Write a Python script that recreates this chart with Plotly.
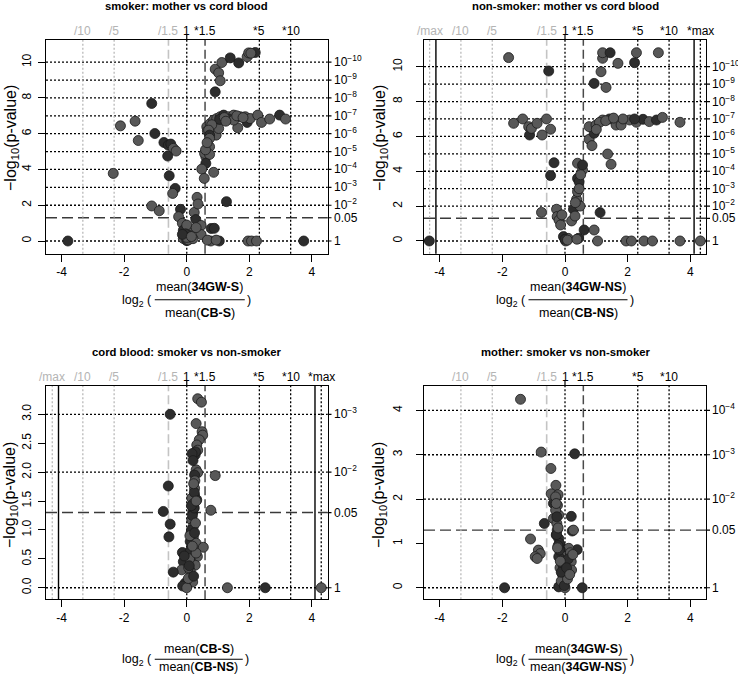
import math
import plotly.graph_objects as go

W, H = 738, 675

# ---------------- data ----------------
# Panel 1: smoker: mother vs cord blood
p1_x = [0.91, 0.91, 1.02, 1.07, 1.12, 1.39, 1.66, 1.93, 1.98, 2.19, 2.05,
        0.64, 0.66, 0.75, 0.86, 0.96, 1.07, 1.18, 0.94, 1.02, 1.34, 1.50, 1.63, 1.71, 1.87, 1.93,
        2.03, 2.27, 2.39, 2.65, 2.97, 3.16, 1.34, 1.50, 1.05, 1.20, 1.25, 0.80, 1.60, 1.80, 0.70,
        0.73, 0.73, 0.73, 0.61, 0.57, 0.73, 0.61, 0.48, 0.56, 0.86, 0.60, 0.65,
        -3.80, 3.74, -2.35, -2.12, -1.65, -1.55, -1.12, -1.02, -1.12, -0.88, -0.73, -0.59, -0.51,
        -0.43, -0.34, -0.61, -0.56, -0.37, -0.45,
        -0.20, -0.26, -0.14, -0.11, -0.11, 0.00, 0.05, 0.12, 0.00, 0.24, 0.33, 0.36, 0.29,
        0.46, 0.78, 0.46, 0.77, 1.04, 0.88, 1.27, 1.96, 2.07, 2.23, 0.10, -0.04, 0.20, 0.66, 0.94,
        0.00, -0.14, 0.15, 0.30]
p1_y = [8.34, 9.61, 9.40, 8.96, 9.98, 10.24, 9.96, 10.30, 10.52, 10.54, 10.50,
        6.39, 6.16, 6.57, 6.76, 6.85, 6.95, 7.04, 5.92, 6.29, 6.95, 7.04, 6.33, 6.95, 6.95, 6.63,
        6.85, 7.04, 6.63, 6.82, 7.04, 6.82, 6.82, 6.76, 6.80, 6.90, 6.70, 6.50, 7.00, 6.90, 6.20,
        5.92, 5.74, 5.27, 4.71, 4.90, 4.84, 4.34, 4.02, 3.50, 3.84, 5.10, 5.50,
        0.00, 0.00, 3.78, 6.44, 6.70, 5.62, 7.69, 6.01, 1.96, 1.69, 5.51, 5.36, 5.42,
        5.18, 5.03, 4.75, 3.65, 2.94, 2.66,
        1.77, 1.36, 0.99, 0.60, 0.14, 0.02, 0.06, 0.55, 0.89, 1.60, 2.44, 2.07, 1.20,
        0.87, 0.70, 0.36, 0.00, 0.00, 0.71, 2.20, 0.00, 0.00, 0.00, 0.30, 0.40, 0.13, 0.05, 0.05,
        0.20, 0.37, 0.25, 0.75]
p1_g = [0, 1, 1, 1, 1, 0, 0, 1, 1, 0, 1,
        1, 1, 1, 1, 1, 1, 0, 1, 1, 1, 1, 1, 1, 1, 0,
        1, 1, 1, 1, 0, 1, 0, 1, 0, 1, 1, 1, 1, 1, 1,
        0, 1, 1, 1, 1, 1, 0, 1, 1, 1, 1, 1,
        0, 0, 1, 1, 1, 1, 0, 0, 1, 1, 0, 0, 0,
        1, 1, 0, 0, 0, 1,
        0, 1, 1, 0, 1, 0, 1, 1, 1, 1, 1, 1, 0,
        1, 0, 1, 1, 0, 0, 0, 1, 1, 1, 0, 0, 1, 1, 1,
        1, 0, 1, 1]

# Panel 2: non-smoker: mother vs cord blood
p2_x = [-4.33, 4.32, -1.80, -0.52, -1.64, -1.35, -1.16, -1.13, -1.07, -0.89, -0.73, -0.59, -0.46,
        -0.35, -0.46, -0.75, -0.27, -0.25, -0.19, -0.14, -0.05, 0.02, 0.10, 0.21, 0.27, 0.32,
        0.40, 0.37, 0.40, 0.40, 0.45, 0.40, 0.56, 0.56, 0.43, 0.61, 0.93, 1.12, 1.04,
        0.77, 0.86, 0.93, 0.77, 0.99, 1.20, 1.36, 1.47, 1.42, 1.63, 1.79, 2.06, 2.28, 2.49,
        2.69, 2.92, 3.11, 3.67, 2.22, 1.85, 1.10, 1.30, 1.55, 1.00,
        0.93, 1.31, 1.15, 1.20, 1.20, 1.44, 1.69, 2.28, 2.22, 2.98,
        1.95, 2.12, 2.52, 2.79, 3.67, 0.00, 0.08, 0.38, 0.50, 0.45, 0.48, 0.33, -0.10]
p2_y = [0.00, 0.00, 10.52, 9.75, 6.75, 7.00, 6.56, 6.08, 6.46, 6.75, 6.08, 7.00, 6.41,
        4.49, 3.75, 1.64, 1.82, 1.40, 1.20, 0.92, 0.25, 0.00, 0.15, 1.15, 1.82, 1.43,
        2.16, 2.39, 2.83, 3.59, 3.40, 4.46, 4.07, 4.36, 0.15, 0.63, 0.63, 1.63, 0.00,
        5.83, 5.47, 6.18, 6.56, 6.65, 6.94, 4.99, 4.40, 7.00, 6.65, 6.65, 6.94, 6.81, 6.98,
        6.85, 6.94, 7.09, 6.81, 7.00, 7.00, 6.80, 6.90, 7.05, 6.40,
        9.04, 8.81, 9.71, 10.48, 10.80, 10.80, 10.19, 10.80, 10.23, 10.80,
        0.00, 0.00, 0.00, 0.00, 0.00, 0.10, 0.05, 0.10, 3.80, 3.00, 2.00, 2.20, 1.50]
p2_g = [0, 1, 1, 0, 1, 1, 1, 0, 1, 1, 1, 1, 1,
        0, 0, 1, 1, 1, 1, 1, 0, 1, 1, 1, 0, 1,
        1, 1, 1, 0, 0, 1, 1, 0, 0, 0, 1, 0, 1,
        1, 1, 0, 1, 1, 1, 1, 1, 0, 1, 1, 1, 1, 0,
        1, 0, 1, 1, 0, 1, 1, 1, 1, 1,
        0, 1, 1, 1, 1, 0, 1, 1, 0, 1,
        1, 1, 1, 1, 1, 0, 1, 1, 1, 1, 1, 1, 1]

# Panel 3: cord blood: smoker vs non-smoker
p3_x = [4.30, 1.30, 2.51, -0.53, 0.35, 0.47, 0.30, 0.49, 0.51, 0.40, 0.32, 0.35, 0.27, 0.30,
        0.35, 0.25, 0.91, -0.59, 0.25, 0.25, 0.32, 0.16, -0.75, 0.77, 0.19, 0.16, 0.21, -0.53,
        -0.57, 0.21, 0.11, 0.30, 0.53, -0.14, 0.34, 0.11, -0.11, 0.27, -0.16, -0.43, 0.11,
        0.19, -0.05, -0.13, 0.00, 0.05, 0.22, 0.28, 0.18, 0.14, 0.24, 0.20, 0.12, 0.26,
        0.15, 0.09, 0.30, 0.22, 0.06, -0.08, 0.17, 0.24, 0.28,
        0.20, 0.22, 0.15, 0.10, 0.25, 0.18, 0.08, 0.30]
p3_y = [0.00, 0.00, 0.00, 3.00, 3.27, 3.21, 2.84, 2.70, 2.64, 2.56, 2.47, 2.38, 2.30, 2.04,
        1.99, 1.95, 1.94, 1.76, 1.72, 1.60, 1.52, 1.55, 1.32, 1.34, 1.30, 1.17, 1.06, 1.10,
        0.88, 0.88, 0.80, 0.77, 0.70, 0.61, 0.54, 0.48, 0.45, 0.39, 0.31, 0.27, 0.29,
        0.10, 0.08, 0.03, 0.00, 0.16, 1.40, 2.35, 1.25, 0.95, 1.65, 1.45, 0.65, 1.85,
        1.00, 0.50, 0.60, 0.20, 0.35, 0.55, 2.32, 1.38, 1.12,
        2.20, 1.80, 1.42, 0.90, 0.95, 0.72, 0.38, 1.50]
p3_g = [1, 1, 0, 0, 1, 1, 1, 1, 1, 1, 1, 1, 0, 1,
        1, 0, 1, 0, 1, 0, 0, 1, 0, 1, 0, 1, 1, 0,
        0, 1, 0, 1, 1, 0, 1, 0, 0, 1, 1, 0, 1,
        1, 0, 0, 1, 1, 0, 0, 0, 1, 0, 1, 0, 1,
        0, 1, 1, 0, 1, 0, 0, 0, 1,
        0, 1, 0, 1, 0, 1, 0, 1]

# Panel 4: mother: smoker vs non-smoker
p4_x = [-1.42, -0.76, 0.31, -0.45, -0.29, -0.44, -0.22, -0.37, -0.24, -0.37, -0.20, 0.20,
        -0.66, -0.26, 0.23, 0.27, -0.28, -0.20, -1.10, -0.15, -0.85, -0.79, -0.95, -0.89,
        0.39, 0.12, 0.17, 0.20, 0.21, -0.15, -0.12, -0.10, -0.05, -0.05, -1.93, 0.55,
        -0.20, 0.00, 0.00, -0.30, -0.25, -0.18, -0.14, -0.10, -0.22, -0.16, -0.08, -0.12,
        -0.06, 0.05, 0.10, -0.02, -0.30, -0.26, 0.08, -0.20,
        -0.28, -0.27, -0.22, -0.18, -0.15, -0.12, -0.24, 0.05, 0.15, 0.25]
p4_y = [4.25, 3.06, 3.02, 2.69, 2.31, 2.12, 2.10, 1.90, 1.86, 1.56, 1.64, 1.61,
        1.45, 1.45, 1.28, 1.30, 1.19, 1.11, 1.10, 0.96, 0.85, 0.77, 0.70, 0.66,
        0.86, 0.89, 0.79, 0.59, 0.40, 0.85, 0.62, 0.42, 0.25, 0.10, 0.00, 0.00,
        0.02, 0.00, 0.19, 1.75, 1.30, 1.00, 0.75, 0.55, 0.95, 0.45, 0.30, 0.15,
        0.50, 0.35, 0.65, 0.05, 2.05, 1.60, 0.20, 0.70,
        1.90, 1.20, 1.35, 0.85, 0.60, 0.35, 0.90, 0.45, 0.30, 0.75]
p4_g = [1, 1, 0, 1, 1, 1, 1, 0, 1, 1, 1, 0,
        0, 1, 0, 1, 1, 0, 1, 0, 1, 1, 1, 1,
        0, 1, 1, 1, 1, 0, 0, 0, 1, 0, 0, 0,
        0, 1, 0, 1, 1, 0, 1, 0, 0, 1, 0, 1,
        0, 1, 0, 0, 1, 0, 1, 0,
        1, 0, 1, 0, 1, 0, 1, 0, 1, 1]

titles = ["smoker: mother vs cord blood", "non-smoker: mother vs cord blood",
          "cord blood: smoker vs non-smoker", "mother: smoker vs non-smoker"]
numerators = ["34GW-S", "34GW-NS", "CB-S", "34GW-S"]
denominators = ["CB-S", "CB-NS", "CB-NS", "34GW-NS"]

# fold-change reference lines (ratios) and their top labels
fold_ratios = [1 / 10, 1 / 5, 1 / 1.5, 1, 1.5, 5, 10]
fold_labels = ["/10", "/5", "/1.5", "1", "*1.5", "*5", "*10"]
# panels with infinite ratios: ±max (log2) and cut-off
max_log2 = [None, 4.32, 4.30, None]
cut_log2 = [None, 4.12, 4.10, None]

# p-value reference levels per panel
p_levels = [
    [1, 0.05, 1e-2, 1e-3, 1e-4, 1e-5, 1e-6, 1e-7, 1e-8, 1e-9, 1e-10],
    [1, 0.05, 1e-2, 1e-3, 1e-4, 1e-5, 1e-6, 1e-7, 1e-8, 1e-9, 1e-10],
    [1, 0.05, 1e-2, 1e-3],
    [1, 0.05, 1e-2, 1e-3, 1e-4],
]
left_ticks = [[0, 2, 4, 6, 8, 10], [0, 2, 4, 6, 8, 10],
              [0.0, 0.5, 1.0, 1.5, 2.0, 2.5, 3.0], [0, 1, 2, 3, 4]]
left_tick_fmt = ["{:.0f}", "{:.0f}", "{:.1f}", "{:.0f}"]
x_ticks = [-4, -2, 0, 2, 4]

# ---------------- layout geometry (pixels) ----------------
boxes = [(46, 327.5, 40, 253.7), (424, 706, 40, 253.7),
         (46, 327.5, 386, 599.3), (424, 706, 386, 599.3)]
y_ranges = [[-0.71, 11.24], [-0.73, 11.53], [-0.20, 3.49], [-0.26, 4.55]]
x_range = [-4.5, 4.5]
frac_w = [90, 99, 88, 99]
frac_dx = [13, 13, 12, 13]
num_dy = [33, 33, 50, 50]
line_dy = [46, 46, 60, 60]
den_dy = [59, 59, 68, 68]
ytitle_x = [11, 380, 11, 380]
ytitle_y = [138, 138, 495, 495]
ylab_standoff = [2, 9, 2, 9]

FONT = "Liberation Sans, Arial, Helvetica, sans-serif"
GREY = "#b4b4b4"
shade = {0: "#2d2d2d", 1: "#585858"}


def px(x):
    return x / W


def py(y):
    return 1 - y / H


fig = go.Figure()
shapes, annos = [], []
data = [(p1_x, p1_y, p1_g), (p2_x, p2_y, p2_g), (p3_x, p3_y, p3_g), (p4_x, p4_y, p4_g)]

for i in range(4):
    k = "" if i == 0 else str(i + 1)
    xr, yr = "x" + k, "y" + k
    l, r, t, b = boxes[i]
    xs, ys, gs = data[i]
    fig.add_trace(go.Scatter(
        x=xs, y=ys, xaxis=xr, yaxis=yr, mode="markers",
        marker=dict(size=10, color=[shade[g] for g in gs],
                    line=dict(color="#1a1a1a", width=0.8)),
        hoverinfo="skip", showlegend=False))

    axis_common = dict(showgrid=False, zeroline=False, showline=True, linecolor="black",
                       linewidth=1.3, mirror=True, ticks="outside", ticklen=7,
                       tickwidth=1.2, tickcolor="black",
                       tickfont=dict(family=FONT, size=12, color="black"))
    fig.layout["xaxis" + k] = dict(
        domain=[px(l), px(r)], range=x_range, anchor=yr,
        tickvals=x_ticks, ticktext=[str(v) for v in x_ticks], **axis_common)
    fig.layout["yaxis" + k] = dict(
        domain=[py(b), py(t)], range=y_ranges[i], anchor=xr, tickangle=-90,
        ticklabelstandoff=ylab_standoff[i],
        tickvals=left_ticks[i], ticktext=[left_tick_fmt[i].format(v) for v in left_ticks[i]],
        **axis_common)

    # horizontal reference lines + right-hand p-value labels
    for p in p_levels[i]:
        v = -math.log10(p)
        if p == 0.05:
            lab = "0.05"
            ln = dict(color="#3a3a3a", width=1.4, dash="11px,5px")
        elif p == 1:
            lab = "1"
            ln = dict(color="black", width=1.3, dash="2px,2px")
        else:
            lab = "10<sup>−%d</sup>" % round(v)
            ln = dict(color="black", width=1.3, dash="2px,2px")
        shapes.append(dict(type="line", xref=xr + " domain", yref=yr, x0=0, x1=1, y0=v, y1=v,
                           line=ln, layer="below"))
        shapes.append(dict(type="line", xref="paper", yref=yr, x0=px(r), x1=px(r + 4), y0=v, y1=v,
                           line=dict(color="black", width=1.2)))
        annos.append(dict(text=lab, xref="paper", yref=yr, x=px(r + 4), y=v, xanchor="left",
                          yanchor="middle", showarrow=False,
                          yshift=(1 if p not in (1, 0.05) else 0),
                          font=dict(family=FONT, size=12, color="black")))

    # vertical fold-change lines and top labels
    for fr, lab in zip(fold_ratios, fold_labels):
        v = math.log2(fr)
        light = fr < 1
        if abs(fr - 1 / 1.5) < 1e-9:
            ln = dict(color="#c4c4c4", width=1.6, dash="9px,4px")
        elif abs(fr - 1.5) < 1e-9:
            ln = dict(color="#4a4a4a", width=1.5, dash="9px,4px")
        elif light:
            ln = dict(color=GREY, width=1.2, dash="2px,2px")
        else:
            ln = dict(color="black", width=1.3, dash="2px,2px")
        shapes.append(dict(type="line", xref=xr, yref=yr + " domain", x0=v, x1=v, y0=0, y1=1,
                           line=ln, layer="below"))
        annos.append(dict(text=lab, xref=xr, yref=yr + " domain", x=v, y=1, yanchor="bottom",
                          xanchor="center", yshift=0, showarrow=False,
                          font=dict(family=FONT, size=12, color=GREY if light else "black")))
    # tick for "1"
    hgt = b - t
    shapes.append(dict(type="line", xref=xr, yref=yr + " domain", x0=0, x1=0, y0=1, y1=1 + 6 / hgt,
                       line=dict(color="black", width=1.2)))

    if max_log2[i] is not None:
        m, c = max_log2[i], cut_log2[i]
        shapes.append(dict(type="line", xref=xr, yref=yr + " domain", x0=-m, x1=-m, y0=0, y1=1,
                           line=dict(color=GREY, width=1.2, dash="2px,2px"), layer="below"))
        shapes.append(dict(type="line", xref=xr, yref=yr + " domain", x0=m, x1=m, y0=0, y1=1,
                           line=dict(color="black", width=1.3, dash="2px,2px"), layer="below"))
        for s in (-c, c):
            shapes.append(dict(type="line", xref=xr, yref=yr + " domain", x0=s, x1=s, y0=0, y1=1,
                               line=dict(color="black", width=1.4), layer="below"))
        annos.append(dict(text="/max", xref=xr, yref=yr + " domain", x=-m, y=1, yanchor="bottom",
                          xanchor="center", showarrow=False,
                          font=dict(family=FONT, size=12, color=GREY)))
        annos.append(dict(text="*max", xref=xr, yref=yr + " domain", x=m, y=1, yanchor="bottom",
                          xanchor="center", showarrow=False,
                          font=dict(family=FONT, size=12, color="black")))

    # panel title
    cx = (l + r) / 2
    annos.append(dict(text="<b>" + titles[i] + "</b>", xref="paper", yref="paper",
                      x=px(cx), y=py(t - 34), xanchor="center", yanchor="middle", showarrow=False,
                      font=dict(family=FONT, size=11.3, color="black")))

    # y-axis title
    annos.append(dict(text="−log<sub>10</sub>(p-value)", xref="paper", yref="paper",
                      x=px(ytitle_x[i]), y=py(ytitle_y[i]), xanchor="center", yanchor="middle",
                      textangle=-90, showarrow=False,
                      font=dict(family=FONT, size=16, color="black")))

    # x-axis title: log2 ( num / den )
    fc = cx + frac_dx[i]
    fl, frr = fc - frac_w[i] / 2, fc + frac_w[i] / 2
    shapes.append(dict(type="line", xref="paper", yref="paper", x0=px(fl), x1=px(frr),
                       y0=py(b + line_dy[i]), y1=py(b + line_dy[i]),
                       line=dict(color="black", width=1.1)))
    annos.append(dict(text="mean(<b>%s</b>)" % numerators[i], xref="paper", yref="paper",
                      x=px(fc), y=py(b + num_dy[i]), xanchor="center", yanchor="middle",
                      showarrow=False, font=dict(family=FONT, size=12.5, color="black")))
    annos.append(dict(text="mean(<b>%s</b>)" % denominators[i], xref="paper", yref="paper",
                      x=px(fc), y=py(b + den_dy[i]), xanchor="center", yanchor="middle",
                      showarrow=False, font=dict(family=FONT, size=12.5, color="black")))
    annos.append(dict(text="log<sub>2</sub> (", xref="paper", yref="paper",
                      x=px(fl - 1), y=py(b + line_dy[i] + 1), xanchor="right", yanchor="middle",
                      showarrow=False, font=dict(family=FONT, size=12.5, color="black")))
    annos.append(dict(text=")", xref="paper", yref="paper",
                      x=px(frr), y=py(b + line_dy[i]), xanchor="left", yanchor="middle",
                      showarrow=False, font=dict(family=FONT, size=12.5, color="black")))

fig.update_layout(width=W, height=H, autosize=False, margin=dict(l=0, r=0, t=0, b=0),
                  paper_bgcolor="white", plot_bgcolor="white", showlegend=False,
                  shapes=shapes, annotations=annos, font=dict(family=FONT))
fig.write_html("out.html", config={"displayModeBar": False},
               post_script="document.body.style.margin='0px';document.body.style.padding='0px';")
